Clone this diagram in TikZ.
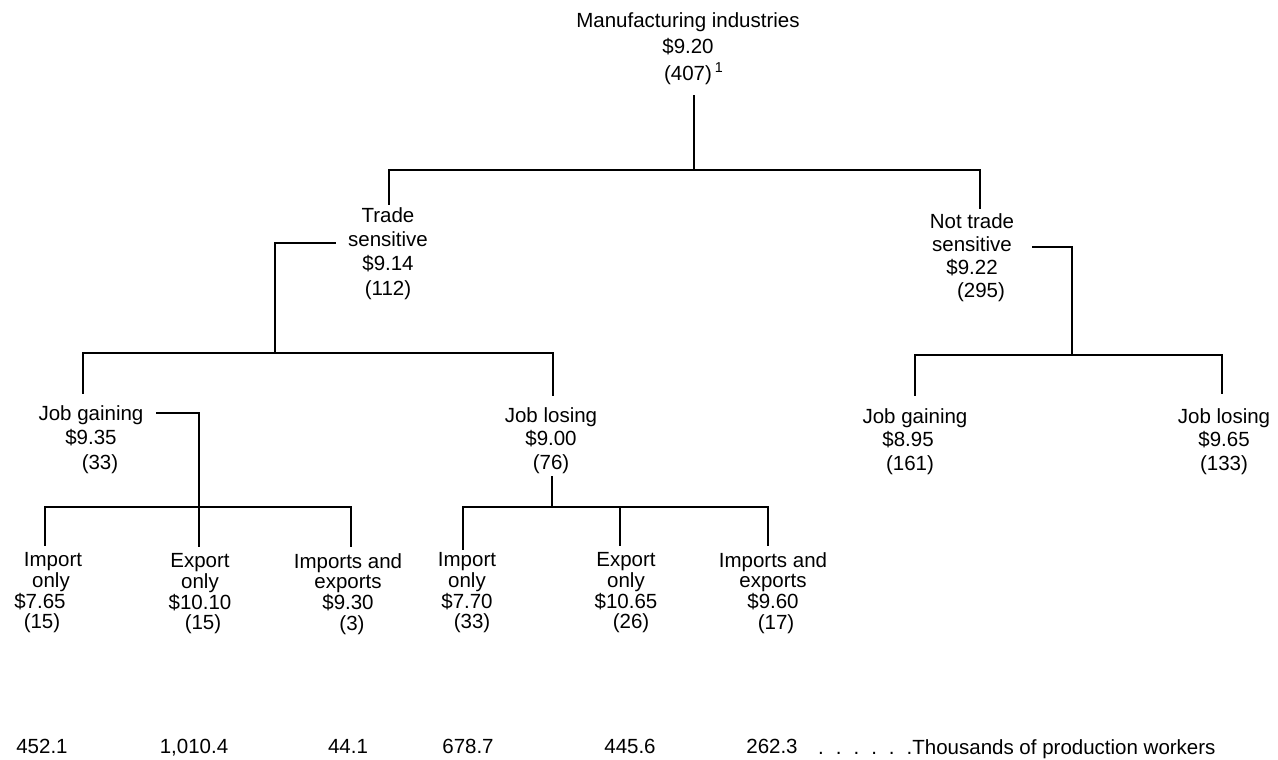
\documentclass[tikz,border=0pt]{standalone}
\usepackage{fontspec}
\setmainfont{Liberation Sans}
\begin{document}
\begin{tikzpicture}[x=1pt,y=-1pt,
  lbl/.style={align=center, inner sep=0pt, text=black},
  conn/.style={line width=1.6pt, draw=black, line cap=rect},
  numlbl/.style={inner sep=0pt, anchor=base, font=\fontsize{20.5}{24}\selectfont}]
\useasboundingbox[fill=white] (0,0) rectangle (1278,760);

% ---- nodes ----
\node[lbl, font=\fontsize{20.5}{26.5}\selectfont] (top) at (688,48.5)
  {Manufacturing industries\\\$9.20\\(407)\rlap{\kern3pt\textsuperscript{1}}};
\node[lbl, font=\fontsize{20.5}{24.3}\selectfont] (trade) at (388,253.5)
  {Trade\\sensitive\\\$9.14\\(112)};
\node[lbl, font=\fontsize{20.5}{23}\selectfont] (nts) at (972,257.5)
  {Not trade\\sensitive\\\$9.22\\\hspace*{18pt}(295)};
\node[lbl, font=\fontsize{20.5}{24.5}\selectfont] (jgL) at (91,439.5)
  {Job gaining\\\$9.35\\\hspace*{18pt}(33)};
\node[lbl, font=\fontsize{20.5}{23.5}\selectfont] (jlM) at (551,440.5)
  {Job losing\\\$9.00\\(76)};
\node[lbl, font=\fontsize{20.5}{23.5}\selectfont] (jgR) at (915,441.5)
  {Job gaining\\\$8.95\kern14pt\\(161)\kern10pt};
\node[lbl, font=\fontsize{20.5}{23.5}\selectfont] (jlR) at (1224,441.5)
  {Job losing\\\$9.65\\(133)};

\node[lbl, font=\fontsize{20.5}{20.7}\selectfont] (ioL) at (47,593)
  {\hspace*{12pt}Import\\\hspace*{8pt}only\\\$7.65\kern14pt\\(15)\kern10pt};
\node[lbl, font=\fontsize{20.5}{20.7}\selectfont] (eoL) at (200,594)
  {Export\\only\\\$10.10\\\hspace*{6pt}(15)};
\node[lbl, font=\fontsize{20.5}{20.7}\selectfont] (ieL) at (348,594)
  {Imports and\\exports\\\$9.30\\\hspace*{8pt}(3)};
\node[lbl, font=\fontsize{20.5}{20.7}\selectfont] (ioM) at (467,593)
  {Import\\only\\\$7.70\\\hspace*{10pt}(33)};
\node[lbl, font=\fontsize{20.5}{20.7}\selectfont] (eoM) at (626,593)
  {Export\\only\\\$10.65\\\hspace*{10pt}(26)};
\node[lbl, font=\fontsize{20.5}{20.7}\selectfont] (ieM) at (773,593)
  {Imports and\\exports\\\$9.60\\\hspace*{6pt}(17)};

% bottom row
\node[numlbl] (w1) at (42,753) {452.1};
\node[numlbl] (w2) at (194,753) {1,010.4};
\node[numlbl] (w3) at (348,753) {44.1};
\node[numlbl] (w4) at (468,753) {678.7};
\node[numlbl] (w5) at (630,753) {445.6};
\node[numlbl] (w6) at (772,753) {262.3};
\node[numlbl, anchor=base west] (legend) at (818,754)
  {.\kern12pt.\kern12pt.\kern12pt.\kern12pt.\kern12pt.Thousands of production workers};

% ---- connectors ----
% root
\coordinate (j1) at (694,170);
\coordinate (j2) at (980,170);
\path (top.south -| j1) ++(0,11) coordinate (r0);
\path (trade.north) ++(1,-3) coordinate (ts0);
\path (nts.north -| j2) ++(0,-5) coordinate (ns0);
\draw[conn] (r0) -- (j1);
\draw[conn] (ts0) |- (j2) -- (ns0);

% trade sensitive
\coordinate (t1) at (275,243);
\coordinate (t2) at (275,353);
\path (trade.west |- t1) ++(-13,0) coordinate (ts1);
\path (jgL.north) ++(-8,-12) coordinate (jg0);
\path (jlM.north) ++(2,-12) coordinate (jl0);
\draw[conn] (ts1) -| (t2);
\draw[conn] (jg0) |- (t2) -| (jl0);

% job gaining (trade sensitive)
\coordinate (g1) at (199,413);
\coordinate (g2) at (199,507);
\path (jgL.east |- g1) ++(13,0) coordinate (jg1);
\path (ioL.north) ++(-2,-7) coordinate (io0);
\path (eoL.north) ++(-1,-7) coordinate (eo0);
\path (ieL.north) ++(3,-7) coordinate (ie0);
\draw[conn] (jg1) -| (eo0);
\draw[conn] (io0) |- (g2) -| (ie0);

% job losing (trade sensitive)
\coordinate (l2) at (552,507);
\path (jlM.south) ++(1,3) coordinate (jl1);
\path (ioM.north) ++(-4,-3) coordinate (io1);
\path (eoM.north) ++(-6,-7) coordinate (eo1);
\path (ieM.north) ++(-5,-7) coordinate (ie1);
\draw[conn] (jl1) -- (l2);
\draw[conn] (io1) |- (l2) -| (ie1);
\draw[conn] (eo1) -- (eo1 |- l2);

% not trade sensitive
\coordinate (n1) at (1072,247);
\coordinate (n2) at (1072,355);
\path (nts.east |- n1) ++(18,0) coordinate (ns1);
\path (jgR.north) ++(0,-13) coordinate (jg2);
\path (jlR.north) ++(-2,-15) coordinate (jl2);
\draw[conn] (ns1) -| (n2);
\draw[conn] (jg2) |- (n2) -| (jl2);
\end{tikzpicture}
\end{document}
